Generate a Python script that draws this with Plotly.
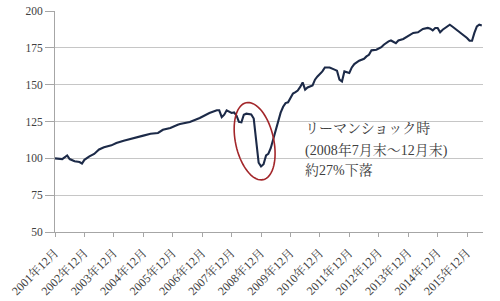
import numpy as np
import plotly.graph_objects as go

# ---- data ----
dates = [
    "2001-12-01", "2002-03-01", "2002-05-01", "2002-06-01", "2002-08-01", "2002-10-01", "2002-11-01",
    "2002-12-01", "2003-02-01", "2003-04-01", "2003-06-01", "2003-08-01", "2003-11-01",
    "2004-01-01", "2004-04-01", "2004-07-01", "2004-09-01", "2004-12-01",
    "2005-03-01", "2005-06-01", "2005-08-01", "2005-11-01",
    "2006-02-01", "2006-03-01", "2006-07-01", "2006-11-01",
    "2007-03-01", "2007-06-01", "2007-07-01", "2007-08-01", "2007-09-01", "2007-10-01", "2007-12-01",
    "2008-01-01", "2008-02-01", "2008-03-01", "2008-04-01", "2008-05-01", "2008-06-01", "2008-07-01",
    "2008-08-01", "2008-09-01", "2008-10-01", "2008-11-01", "2008-12-01",
    "2009-01-01", "2009-02-01", "2009-03-01", "2009-04-01", "2009-05-01", "2009-06-01",
    "2009-07-01", "2009-08-01", "2009-09-01", "2009-10-01", "2009-11-01", "2009-12-01",
    "2010-01-01", "2010-02-01", "2010-03-01", "2010-04-01", "2010-05-01", "2010-06-01", "2010-07-01",
    "2010-09-01", "2010-10-01", "2010-11-01",
    "2011-01-01", "2011-02-01", "2011-04-01", "2011-06-01", "2011-07-01", "2011-08-01", "2011-09-01",
    "2011-10-01", "2011-12-01",
    "2012-01-01", "2012-02-01", "2012-04-01", "2012-06-01", "2012-07-01", "2012-08-01", "2012-09-01",
    "2012-11-01",
    "2013-01-01", "2013-02-01", "2013-04-01", "2013-05-01", "2013-07-01", "2013-08-01", "2013-10-01",
    "2013-12-01",
    "2014-02-01", "2014-04-01", "2014-06-01", "2014-08-01", "2014-09-01", "2014-10-01", "2014-11-01",
    "2014-12-01",
    "2015-01-01", "2015-02-01", "2015-04-01", "2015-05-01", "2015-06-01", "2015-08-01", "2015-10-01",
    "2015-12-01",
    "2016-01-01", "2016-02-01", "2016-03-01", "2016-04-01", "2016-05-01", "2016-06-01",
]
values = [
    100.0, 99.5, 102.0, 99.5, 98.0, 97.5, 96.5,
    99.0, 101.3, 103.0, 106.0, 107.5, 108.8,
    110.4, 112.0, 113.1, 114.2, 115.4,
    116.7, 117.2, 119.4, 120.6,
    122.8, 123.3, 124.7, 127.4,
    130.8, 132.6, 132.6, 128.0, 129.6, 132.6, 130.8,
    131.2, 128.9, 124.7, 124.4, 129.6, 130.3, 130.0,
    129.8, 127.0, 113.0, 97.0, 94.5,
    96.0, 102.0, 103.0, 107.0, 113.0, 119.0,
    125.0, 131.0, 135.0, 137.5, 138.0, 141.0,
    144.0, 145.0, 146.0, 148.5, 151.5, 146.6, 148.1,
    149.5, 153.4, 155.6,
    159.0, 161.7, 161.7, 160.2, 159.5, 153.4, 152.2,
    159.0, 157.9,
    161.7, 164.0, 166.3, 167.6, 169.2, 170.3, 173.3,
    173.7,
    175.4, 177.1, 179.4, 180.0, 178.2, 180.0, 181.0,
    183.2,
    185.1, 185.5, 187.8, 188.5, 188.0, 186.8, 188.5,
    188.5,
    185.5, 187.3, 189.5, 190.7, 189.5, 186.8, 184.6,
    181.7,
    179.8, 179.8, 185.1, 189.5, 190.7, 190.2,
]
tick_dates = ["%d-12-01" % y for y in range(2001, 2016)]
tick_labels = ["%d年12月" % y for y in range(2001, 2016)]
y_ticks = [50, 75, 100, 125, 150, 175, 200]
note_lines = ["リーマンショック時", "(2008年7月末～12月末)", "約27%下落"]

# ---- layout geometry ----
W, H = 500, 301
ML, MR, MT, MB = 54.5, 16.7, 11.3, 68.7
PW, PH = W - ML - MR, H - MT - MB

SERIF = "Liberation Serif, Noto Serif CJK JP, Noto Sans CJK JP, serif"
TXT = "#404040"
GRID = "#c6c6c6"

fig = go.Figure()
fig.add_trace(go.Scatter(
    x=dates, y=values, mode="lines",
    line=dict(color="#1c2a48", width=2.1),
    hoverinfo="skip", showlegend=False,
))

# red ellipse (pixel geometry -> paper coords)
cx, cy, a, b, th = 254.5, 141.5, 39.4, 19.1, np.deg2rad(12.5)
t = np.linspace(0, 2 * np.pi, 73)
px = cx + b * np.cos(t) * np.cos(th) + a * np.sin(t) * np.sin(th)
py = cy - b * np.cos(t) * np.sin(th) + a * np.sin(t) * np.cos(th)
fx = (px - ML) / PW
fy = (H - MB - py) / PH
path = "M " + " L ".join("%.5f,%.5f" % (u, v) for u, v in zip(fx, fy)) + " Z"
fig.add_shape(type="path", path=path, xref="paper", yref="paper",
              line=dict(color="#a3262a", width=1.6))

# annotation text
for txt, ypix in zip(note_lines, [128.5, 150.5, 170.5]):
    fig.add_annotation(
        text=txt, xref="paper", yref="paper",
        x=(302.5 - ML) / PW, y=(H - MB - ypix) / PH,
        xanchor="left", yanchor="middle", showarrow=False,
        font=dict(family=SERIF, size=14, color=TXT),
    )

fig.update_layout(
    width=W, height=H,
    margin=dict(l=ML, r=MR, t=MT, b=MB, pad=0, autoexpand=False),
    paper_bgcolor="white", plot_bgcolor="white",
    showlegend=False,
)
fig.update_xaxes(
    type="date", range=["2001-12-01", "2016-06-16"],
    tickmode="array", tickvals=tick_dates, ticktext=tick_labels,
    tickangle=-45, tickfont=dict(family=SERIF, size=12, color=TXT),
    showgrid=False, zeroline=False, automargin=False,
    showline=True, linecolor="#a6a6a6", linewidth=1,
    ticks="outside", ticklen=4, tickcolor="#a6a6a6",
    ticklabelstandoff=4,
)
fig.update_yaxes(
    range=[50, 200], tickmode="array", tickvals=y_ticks,
    tickfont=dict(family=SERIF, size=11.5, color=TXT),
    showgrid=True, gridcolor=GRID, gridwidth=1, zeroline=False, automargin=False,
    showline=True, linecolor="#a6a6a6", linewidth=1,
    ticks="outside", ticklen=9, tickcolor="#a6a6a6",
)

fig.write_html("out.html")
